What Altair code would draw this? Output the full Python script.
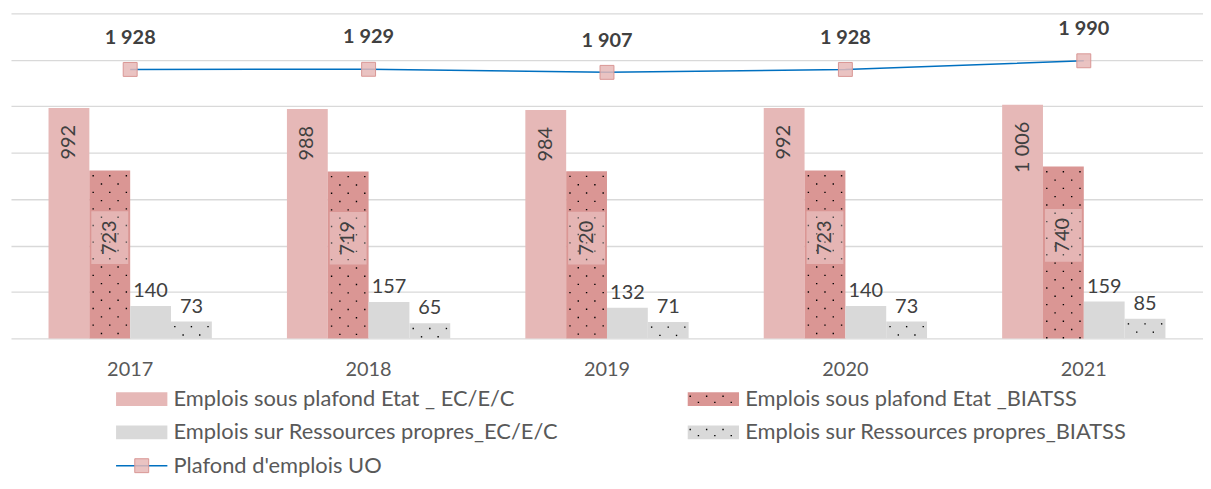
import altair as alt
import pandas as pd

# ---------------- data ----------------
years = ["2017", "2018", "2019", "2020", "2021"]
ec_etat = [992, 988, 984, 992, 1006]
biatss_etat = [723, 719, 720, 723, 740]
ec_rp = [140, 157, 132, 140, 159]
biatss_rp = [73, 65, 71, 73, 85]
plafond = [1928, 1929, 1907, 1928, 1990]

series_names = [
    "Emplois sous plafond Etat _ EC/E/C",
    "Emplois sous plafond Etat _BIATSS",
    "Emplois sur Ressources propres_EC/E/C",
    "Emplois sur Ressources propres_BIATSS",
]
line_name = "Plafond d'emplois UO"
series_colors = ["#E6B8B7", "#DA9694", "#D9D9D9", "#D9D9D9"]
patterned = [False, True, False, True]


def fmt(v):
    return f"{v:,}".replace(",", " ")


rows = []
for name, vals, pat in zip(series_names, [ec_etat, biatss_etat, ec_rp, biatss_rp], patterned):
    for yr, v in zip(years, vals):
        rows.append({"year": yr, "series": name, "value": v, "label": fmt(v), "pattern": pat})
bars_df = pd.DataFrame(rows)

line_df = pd.DataFrame({"year": years, "plafond": plafond, "label": [fmt(v) for v in plafond]})

legend_df = pd.DataFrame({
    "series": series_names + [line_name],
    "col": [0, 1, 0, 1, 0],
    "row": [0, 0, 1, 1, 2],
    "kind": ["bar", "bar", "bar", "bar", "line"],
    "pattern": patterned + [False],
})

# ---------------- styles ----------------
FONT = "Lato"
LABEL = "#404040"
AXIS = "#595959"
GRID = "#D9D9D9"
P_INNER = 0.315
WIDTH = 1199

xscale = alt.Scale(paddingInner=P_INNER, paddingOuter=P_INNER / 2)
xaxis = alt.Axis(labelFontSize=20, labelColor=AXIS, labelFont=FONT, ticks=False,
                 domain=False, labelPadding=21, labelAngle=0)
x_enc = alt.X("year:N", title=None, sort=years, scale=xscale, axis=xaxis)
xoff = alt.XOffset("series:N", sort=series_names,
                   scale=alt.Scale(domain=series_names, paddingInner=0, paddingOuter=0))
yscale = alt.Scale(domain=[0, 1400], nice=False, zero=True)
yaxis = alt.Axis(values=list(range(0, 1401, 200)), grid=True, gridColor=GRID, gridWidth=1.3,
                 labels=False, ticks=False, domain=False, title=None)
y_val = alt.Y("value:Q", scale=yscale, axis=yaxis)
y_lab = alt.Y("lab_y:Q", scale=yscale, axis=yaxis)
color = alt.Color("series:N", scale=alt.Scale(domain=series_names, range=series_colors), legend=None)

base = alt.Chart(bars_df)

bars = base.mark_bar().encode(x=x_enc, xOffset=xoff, y=y_val, color=color)

# dotted texture on the BIATSS bars: vertical dotted rules placed inside each bar's band
period = 16.7
band_px = WIDTH / 5 * (1 - P_INNER)
col_px = [-16.7, -8.35, 0.0, 8.35, 16.7]
dot_layers = []
for si, name in enumerate(series_names):
    if not patterned[si]:
        continue
    centre = (si + 0.5) / len(series_names)
    for ci, off in enumerate(col_px):
        dash_off = period - 4.5 if ci % 2 == 0 else period - 12.85
        xd = alt.X("year:N", title=None, sort=years, bandPosition=centre + off / band_px,
                   scale=xscale, axis=xaxis)
        dot_layers.append(
            base.transform_filter(alt.datum.series == name)
            .mark_rule(strokeDash=[1.4, period - 1.4], strokeDashOffset=dash_off,
                       strokeWidth=1.4, color="black")
            .encode(x=xd, y=y_val, y2=alt.datum(0))
        )

ec_labels = (
    base.transform_filter(alt.datum.series == series_names[0])
    .mark_text(angle=270, align="right", baseline="middle", dx=-17, fontSize=20,
               color=LABEL, font=FONT)
    .encode(x=x_enc, xOffset=xoff, y=y_val, text="label:N")
)

biatss_base = base.transform_filter(alt.datum.series == series_names[1]).transform_calculate(
    lab_y="datum.value * 0.6")
box = biatss_base.mark_point(
    shape="M-0.7,-1H0.7V1H-0.7Z", size=2809, filled=True, fill="white", fillOpacity=0.3,
    strokeWidth=0, opacity=1,
).encode(x=x_enc, xOffset=xoff, y=y_lab)
biatss_labels = biatss_base.mark_text(
    angle=270, align="center", baseline="middle", fontSize=20, color=LABEL, font=FONT
).encode(x=x_enc, xOffset=xoff, y=y_lab, text="label:N")

rp_labels = (
    base.transform_filter(alt.FieldOneOfPredicate(field="series", oneOf=series_names[2:]))
    .mark_text(baseline="bottom", dy=-5, fontSize=20, color=LABEL, font=FONT)
    .encode(x=x_enc, xOffset=xoff, y=y_val, text="label:N")
)

bar_group = alt.layer(bars, *dot_layers, box, biatss_labels, ec_labels, rp_labels)

y2s = alt.Y("plafond:Q", scale=alt.Scale(domain=[0, 2330], nice=False), axis=None)
lbase = alt.Chart(line_df)
line = lbase.mark_line(color="#0070C0", strokeWidth=1.5).encode(x=x_enc, y=y2s)
markers = lbase.mark_square(size=196, fill="#E6B8B7", fillOpacity=0.85, stroke="#D99694",
                            strokeWidth=1, opacity=1).encode(x=x_enc, y=y2s)
line_labels = lbase.mark_text(fontSize=20, fontWeight="bold", color=LABEL, font=FONT,
                              dy=-32, baseline="middle").encode(x=x_enc, y=y2s, text="label:N")
line_group = alt.layer(line, markers, line_labels)

main = alt.layer(bar_group, line_group).resolve_scale(y="independent").properties(
    width=WIDTH, height=327)

# ---------------- legend ----------------
lx = alt.X("col:Q", scale=alt.Scale(domain=[0, 2], nice=False, zero=False), axis=None)
ly = alt.Y("row:Q", scale=alt.Scale(domain=[0, 2], reverse=True, nice=False, zero=False), axis=None)
lb = alt.Chart(legend_df)
SYM_X = 131.5

dot_path = ""
for yy, xs in [(-0.14, [-0.93, -0.29, 0.35]), (0.1, [-0.61, 0.03, 0.67])]:
    for xx in xs:
        dot_path += f"M{xx:.3f},{yy:.3f}h0.055v0.055h-0.055Z"

leg_rect = lb.transform_filter(alt.datum.kind == "bar").mark_point(
    shape="M-1,-0.27H1V0.27H-1Z", size=2663, filled=True, opacity=1, xOffset=SYM_X
).encode(x=lx, y=ly, color=color)
leg_dots = lb.transform_filter(alt.datum.pattern == True).mark_point(
    shape=dot_path, size=2663, filled=True, color="black", opacity=1, xOffset=SYM_X
).encode(x=lx, y=ly)
leg_line = lb.transform_filter(alt.datum.kind == "line").mark_point(
    shape="M-1,0H1", size=2663, filled=False, stroke="#0070C0", strokeWidth=1.5, opacity=1,
    xOffset=SYM_X
).encode(x=lx, y=ly)
leg_marker = lb.transform_filter(alt.datum.kind == "line").mark_square(
    size=196, fill="#E6B8B7", fillOpacity=0.85, stroke="#D99694", strokeWidth=1, opacity=1,
    xOffset=SYM_X
).encode(x=lx, y=ly)
leg_text = lb.mark_text(align="left", baseline="middle", fontSize=22, color=AXIS, font=FONT,
                        xOffset=163.5).encode(x=lx, y=ly, text="series:N")

legend = alt.layer(leg_rect, leg_dots, leg_line, leg_marker, leg_text).properties(
    width=1150, height=67)

chart = alt.vconcat(main, legend, spacing=61, bounds="flush").properties(
    padding={"left": 3, "top": 4, "right": 0, "bottom": 0}
).configure(font=FONT, view=alt.ViewConfig(stroke=None))

chart.save("out.html", embed_options={"renderer": "svg", "actions": False})
